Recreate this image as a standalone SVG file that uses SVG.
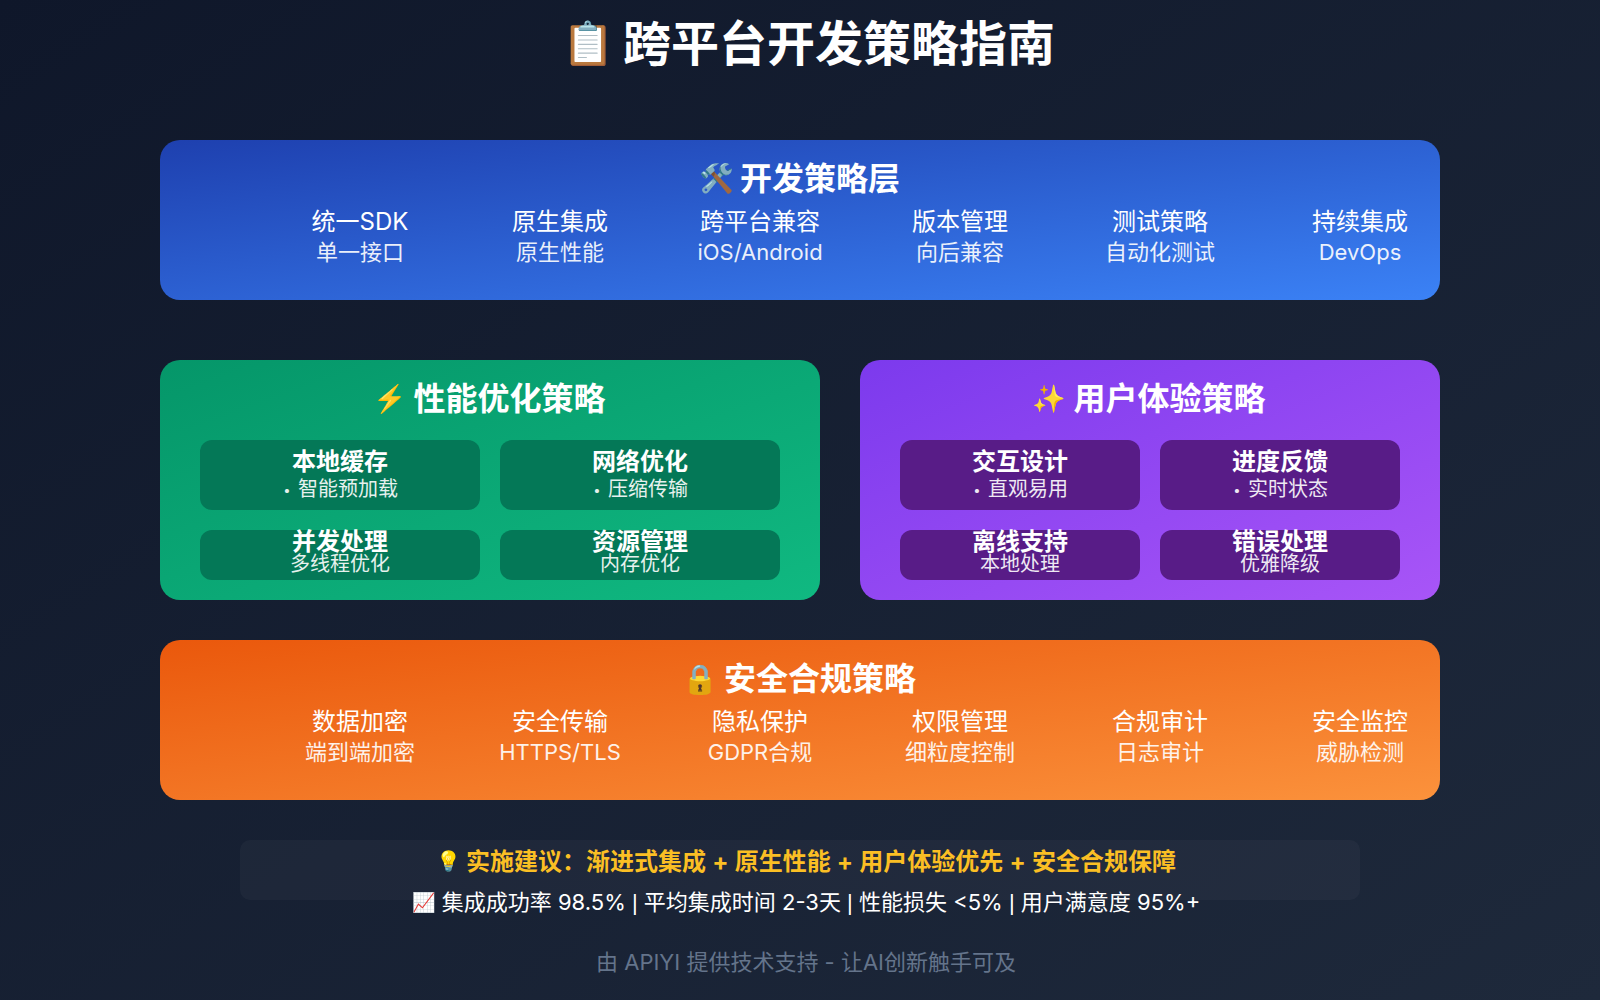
<svg xmlns="http://www.w3.org/2000/svg" width="1600" height="1000" viewBox="0 0 1600 1000">
<style>
text{font-family:"Inter","Noto Sans CJK SC",sans-serif;text-anchor:middle;fill:#fff}
.title{font-size:48px;font-weight:700}
.h{font-size:32px;font-weight:700}
.a{font-size:24px}
.b{font-size:22px;opacity:.9}
.ct{font-size:24px;font-weight:700}
.cs{font-size:20px;opacity:.9}
.dot{font-size:13px}
.pipe{font-family:"Liberation Sans",sans-serif}
.g{fill:#047857}
.p{fill:#581c87}
</style>
<defs>
<linearGradient id="bg" x1="0" y1="0" x2="1" y2="1"><stop offset="0" stop-color="#0f172a"/><stop offset="1" stop-color="#1e293b"/></linearGradient>
<linearGradient id="blue" x1="0" y1="0" x2="1" y2="1"><stop offset="0" stop-color="#1e40af"/><stop offset="1" stop-color="#3b82f6"/></linearGradient>
<linearGradient id="green" x1="0" y1="0" x2="1" y2="1"><stop offset="0" stop-color="#059669"/><stop offset="1" stop-color="#10b981"/></linearGradient>
<linearGradient id="purple" x1="0" y1="0" x2="1" y2="1"><stop offset="0" stop-color="#7c3aed"/><stop offset="1" stop-color="#a855f7"/></linearGradient>
<linearGradient id="orange" x1="0" y1="0" x2="1" y2="1"><stop offset="0" stop-color="#ea580c"/><stop offset="1" stop-color="#fb923c"/></linearGradient>
</defs>
<rect width="1600" height="1000" fill="url(#bg)"/>
<text class="title"><tspan x="588" y="58" style="font-size:42px">📋</tspan><tspan x="839" y="61">跨平台开发策略指南</tspan></text>
<g id="dev">
<rect x="160" y="140" width="1280" height="160" rx="20" fill="url(#blue)"/>
<text class="h"><tspan x="716" y="188" style="font-size:28px">🛠️</tspan><tspan x="820" y="190">开发策略层</tspan></text>
<text class="a" x="360" y="230">统一SDK</text><text class="b" x="360" y="260">单一接口</text>
<text class="a" x="560" y="230">原生集成</text><text class="b" x="560" y="260">原生性能</text>
<text class="a" x="760" y="230">跨平台兼容</text><text class="b" x="760" y="260">iOS/Android</text>
<text class="a" x="960" y="230">版本管理</text><text class="b" x="960" y="260">向后兼容</text>
<text class="a" x="1160" y="230">测试策略</text><text class="b" x="1160" y="260">自动化测试</text>
<text class="a" x="1360" y="230">持续集成</text><text class="b" x="1360" y="260">DevOps</text>
</g>
<g id="perf">
<rect x="160" y="360" width="660" height="240" rx="20" fill="url(#green)"/>
<text class="h"><tspan x="390" y="408" style="font-size:27px">⚡</tspan><tspan x="509.500" y="410">性能优化策略</tspan></text>
<rect class="g" x="200" y="440" width="280" height="70" rx="12"/>
<rect class="g" x="500" y="440" width="280" height="70" rx="12"/>
<rect class="g" x="200" y="530" width="280" height="50" rx="12"/>
<rect class="g" x="500" y="530" width="280" height="50" rx="12"/>
<text class="ct" x="340" y="470">本地缓存</text><text class="cs"><tspan class="dot" x="287" y="495">•</tspan><tspan x="348" y="496">智能预加载</tspan></text>
<text class="ct" x="640" y="470">网络优化</text><text class="cs"><tspan class="dot" x="597" y="495">•</tspan><tspan x="648" y="496">压缩传输</tspan></text>
<text class="ct" x="340" y="550">并发处理</text><text class="cs" x="340" y="571">多线程优化</text>
<text class="ct" x="640" y="550">资源管理</text><text class="cs" x="640" y="571">内存优化</text>
</g>
<g id="ux">
<rect x="860" y="360" width="580" height="240" rx="20" fill="url(#purple)"/>
<text class="h"><tspan x="1049" y="408" style="font-size:27px">✨</tspan><tspan x="1169.500" y="410">用户体验策略</tspan></text>
<rect class="p" x="900" y="440" width="240" height="70" rx="12"/>
<rect class="p" x="1160" y="440" width="240" height="70" rx="12"/>
<rect class="p" x="900" y="530" width="240" height="50" rx="12"/>
<rect class="p" x="1160" y="530" width="240" height="50" rx="12"/>
<text class="ct" x="1020" y="470">交互设计</text><text class="cs"><tspan class="dot" x="977" y="495">•</tspan><tspan x="1028" y="496">直观易用</tspan></text>
<text class="ct" x="1280" y="470">进度反馈</text><text class="cs"><tspan class="dot" x="1237" y="495">•</tspan><tspan x="1288" y="496">实时状态</tspan></text>
<text class="ct" x="1020" y="550">离线支持</text><text class="cs" x="1020" y="571">本地处理</text>
<text class="ct" x="1280" y="550">错误处理</text><text class="cs" x="1280" y="571">优雅降级</text>
</g>
<g id="sec">
<rect x="160" y="640" width="1280" height="160" rx="20" fill="url(#orange)"/>
<text class="h"><tspan x="700" y="689" style="font-size:29px">🔒</tspan><tspan x="820" y="690">安全合规策略</tspan></text>
<text class="a" x="360" y="730">数据加密</text><text class="b" x="360" y="760">端到端加密</text>
<text class="a" x="560" y="730">安全传输</text><text class="b" x="560" y="760">HTTPS/TLS</text>
<text class="a" x="760" y="730">隐私保护</text><text class="b" x="760" y="760">GDPR合规</text>
<text class="a" x="960" y="730">权限管理</text><text class="b" x="960" y="760">细粒度控制</text>
<text class="a" x="1160" y="730">合规审计</text><text class="b" x="1160" y="760">日志审计</text>
<text class="a" x="1360" y="730">安全监控</text><text class="b" x="1360" y="760">威胁检测</text>
</g>
<g id="summary">
<rect x="240" y="840" width="1120" height="60" rx="10" fill="#fff" fill-opacity=".03"/>
<text style="font-size:24px;font-weight:700;fill:#fbbf24;word-spacing:.5px"><tspan x="448" y="868" style="font-size:20px">💡</tspan><tspan x="821" y="870">实施建议：渐进式集成 + 原生性能 + 用户体验优先 + 安全合规保障</tspan></text>
<text style="font-size:22px"><tspan x="424" y="909" style="font-size:19px">📈</tspan><tspan x="821" y="910">集成成功率 98.5% <tspan class="pipe">|</tspan> 平均集成时间 2-3天 <tspan class="pipe">|</tspan> 性能损失 &lt;5% <tspan class="pipe">|</tspan> 用户满意度 95%+</tspan></text>
</g>
<text id="footer" x="806" y="970" style="font-size:22px;fill:#64748b">由 APIYI 提供技术支持 - 让AI创新触手可及</text>
</svg>
